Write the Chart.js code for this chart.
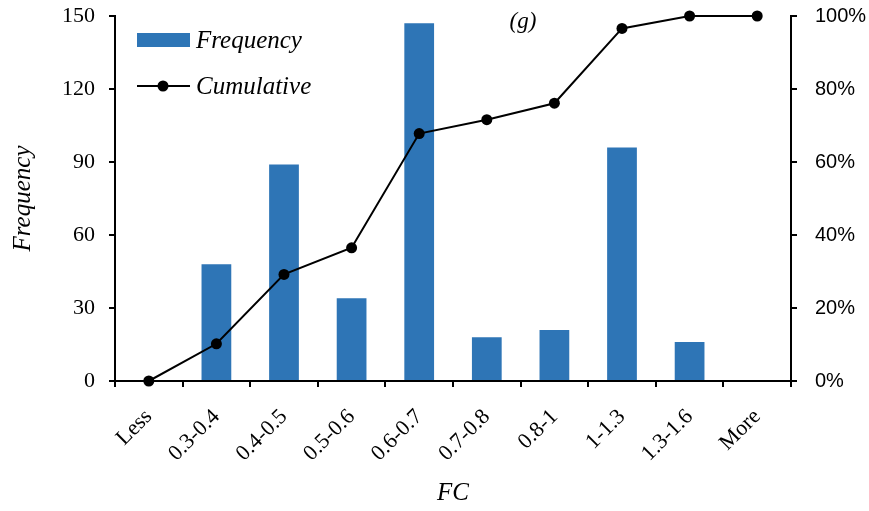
<!DOCTYPE html>
<html>
<head>
<meta charset="utf-8">
<script src="https://cdn.jsdelivr.net/npm/chart.js@4"></script>
<style>
  html, body { margin: 0; padding: 0; background: #fff; }
  #wrap { width: 869px; height: 511px; }
</style>
</head>
<body>
<div id="wrap"><canvas id="c"></canvas></div>
<script>
const categories = ['Less', '0.3-0.4', '0.4-0.5', '0.5-0.6', '0.6-0.7', '0.7-0.8', '0.8-1', '1-1.3', '1.3-1.6', 'More'];
const frequency = [0, 48, 89, 34, 147, 18, 21, 96, 16, 0];
const cumulative = [0, 10.2, 29.2, 36.5, 67.8, 71.6, 76.1, 96.6, 100, 100];
const freqTicks = [0, 30, 60, 90, 120, 150];
const pctTicks = [0, 20, 40, 60, 80, 100];

const BLUE = '#2E75B6';
const serif = 'Liberation Serif';

// legend + panel tag drawn by hand to get Excel's look
const legendPlugin = {
  id: 'excelLegend',
  afterDraw(chart) {
    const ctx = chart.ctx;
    ctx.save();
    ctx.fillStyle = BLUE;
    ctx.fillRect(137, 33, 53, 14);
    ctx.strokeStyle = '#000';
    ctx.lineWidth = 2;
    ctx.beginPath();
    ctx.moveTo(137, 86);
    ctx.lineTo(190, 86);
    ctx.stroke();
    ctx.fillStyle = '#000';
    ctx.beginPath();
    ctx.arc(163, 86, 5.5, 0, Math.PI * 2);
    ctx.fill();
    ctx.font = 'italic 25px "' + serif + '"';
    ctx.textBaseline = 'middle';
    ctx.textAlign = 'left';
    ctx.fillText('Frequency', 196, 41);
    ctx.fillText('Cumulative', 196, 87);
    ctx.font = 'italic 23px "' + serif + '"';
    ctx.textAlign = 'center';
    ctx.fillText('(g)', 523, 22);
    ctx.restore();
  }
};

new Chart(document.getElementById('c'), {
  type: 'bar',
  data: {
    labels: categories,
    datasets: [
      {
        type: 'line',
        label: 'Cumulative',
        data: cumulative,
        yAxisID: 'y1',
        borderColor: '#000',
        backgroundColor: '#000',
        borderWidth: 2,
        pointRadius: 5.5,
        pointBackgroundColor: '#000',
        pointBorderWidth: 0,
        tension: 0,
        clip: false,
        order: 0
      },
      {
        label: 'Frequency',
        data: frequency,
        yAxisID: 'y',
        backgroundColor: BLUE,
        barPercentage: 0.44,
        categoryPercentage: 1,
        order: 1
      }
    ]
  },
  options: {
    responsive: true,
    maintainAspectRatio: false,
    animation: false,
    layout: { padding: { top: 16, left: 0, right: 0, bottom: 0 } },
    plugins: { legend: { display: false }, tooltip: { enabled: false } },
    scales: {
      x: {
        offset: true,
        grid: { offset: true, drawOnChartArea: false, drawTicks: true, tickLength: 6, color: '#000', lineWidth: 2 },
        border: { display: true, color: '#000', width: 2 },
        ticks: { color: '#000', font: { family: serif, size: 22 }, minRotation: 45, maxRotation: 45, padding: 17 },
        title: { display: true, text: 'FC', color: '#000', font: { family: serif, size: 25, style: 'italic' }, padding: { top: 0, bottom: 3 } },
        afterFit: s => { s.height = 130; s.paddingLeft = 0; s.paddingRight = 0; }
      },
      y: {
        position: 'left',
        min: 0, max: 150,
        afterBuildTicks: s => { s.ticks = freqTicks.map(v => ({ value: v })); },
        grid: { drawOnChartArea: false, drawTicks: true, tickLength: 6, color: '#000', lineWidth: 2 },
        border: { display: true, color: '#000', width: 2 },
        ticks: { color: '#000', font: { family: serif, size: 22 }, padding: 14 },
        title: { display: true, text: 'Frequency', color: '#000', font: { family: serif, size: 25, style: 'italic' }, padding: { top: 8, bottom: 0 } },
        afterFit: s => { s.width = 115; s.paddingTop = 0; s.paddingBottom = 0; }
      },
      y1: {
        position: 'right',
        min: 0, max: 100,
        afterBuildTicks: s => { s.ticks = pctTicks.map(v => ({ value: v })); },
        grid: { drawOnChartArea: false, drawTicks: true, tickLength: 6, color: '#000', lineWidth: 2 },
        border: { display: true, color: '#000', width: 2 },
        ticks: { color: '#000', font: { family: 'Liberation Sans', size: 20 }, padding: 18, callback: v => v + '%' },
        afterFit: s => { s.width = 78; s.paddingTop = 0; s.paddingBottom = 0; }
      }
    }
  },
  plugins: [legendPlugin]
});
</script>
</body>
</html>
